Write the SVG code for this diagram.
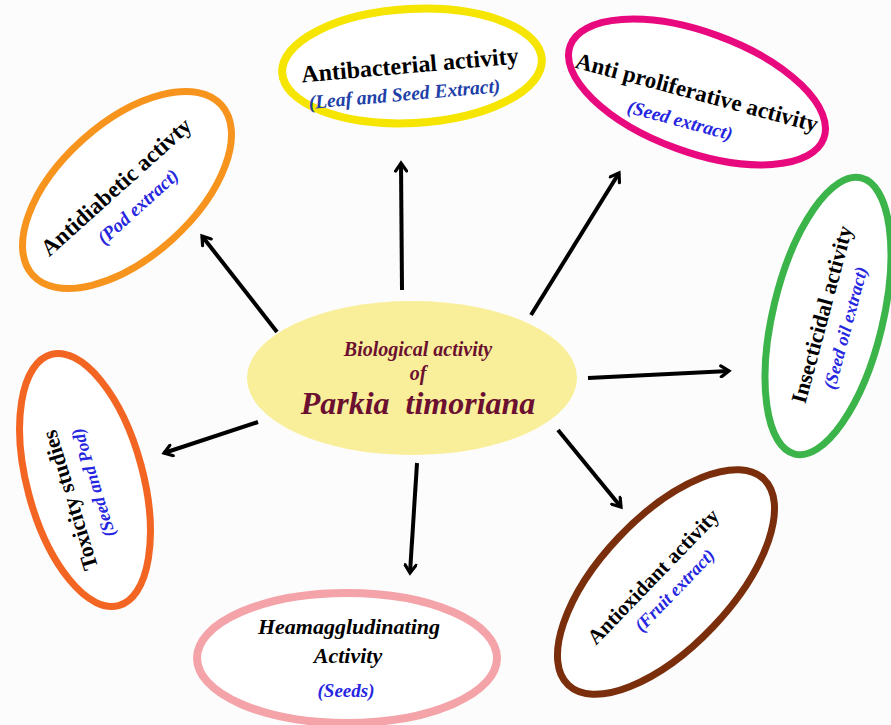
<svg xmlns="http://www.w3.org/2000/svg" width="891" height="725" viewBox="0 0 891 725">
<defs>
<marker id="ah" viewBox="0 0 14 14" refX="11" refY="7" markerWidth="14" markerHeight="14" markerUnits="userSpaceOnUse" orient="auto">
<path d="M3,1.5 L11,7 L3,12.5" fill="none" stroke="#000" stroke-width="3.2" stroke-linecap="round" stroke-linejoin="miter"/>
</marker>
</defs>
<style>
.t{font-family:"Liberation Serif","Times New Roman",serif;font-weight:bold;fill:#000;text-anchor:middle;}
.s{font-family:"Liberation Serif","Times New Roman",serif;font-weight:bold;font-style:italic;fill:#2626e0;text-anchor:middle;}
.c{font-family:"Liberation Serif","Times New Roman",serif;font-weight:bold;font-style:italic;fill:#6b1030;text-anchor:middle;}
.arrow{stroke:#000;stroke-width:4;fill:none;marker-end:url(#ah);}
</style>
<rect width="891" height="725" fill="#fcfcfc"/>

<g id="connectors">
<line class="arrow" x1="277" y1="332" x2="202" y2="236"/>
<line class="arrow" x1="402" y1="290" x2="401" y2="163"/>
<line class="arrow" x1="531" y1="315" x2="619" y2="173"/>
<line class="arrow" x1="588" y1="378" x2="729" y2="371"/>
<line class="arrow" x1="558" y1="430" x2="621" y2="507"/>
<line class="arrow" x1="417" y1="463" x2="410" y2="573"/>
<line class="arrow" x1="258" y1="422" x2="164" y2="453"/>
</g>

<g id="center">
<ellipse cx="412" cy="378" rx="165" ry="77" fill="#f9ef9a"/>
<text class="c" x="418" y="356" font-size="20">Biological activity</text>
<text class="c" x="418" y="380" font-size="20">of</text>
<text class="c" x="418" y="414" font-size="32" xml:space="preserve">Parkia  timoriana</text>
</g>

<g id="antidiabetic" transform="translate(127,190) rotate(-42)">
<ellipse cx="0" cy="0" rx="127" ry="67" fill="#fff" stroke="#f7941d" stroke-width="7"/>
<text class="t" x="-6" y="-2" font-size="23">Antidiabetic activty</text>
<text class="s" x="-3" y="26" font-size="19">(Pod extract)</text>
</g>

<g id="antibacterial">
<ellipse cx="412" cy="66" rx="130" ry="57" fill="#fff" stroke="#f5e500" stroke-width="8" transform="rotate(-3 412 66)"/>
<g transform="translate(410,66) rotate(-5)">
<text class="t" x="0" y="7" font-size="24">Antibacterial activity</text>
<text class="s" x="-8" y="34" font-size="19.5" style="fill:#2040a8">(Leaf and Seed Extract)</text>
</g>
</g>

<g id="antiproliferative" transform="translate(697,92)">
<ellipse cx="0" cy="0" rx="135" ry="60" fill="#fff" stroke="#e8097f" stroke-width="7" transform="rotate(20)"/>
<g transform="rotate(15)">
<text class="t" x="0" y="8" font-size="23">Anti proliferative activity</text>
<text class="s" x="-9" y="38" font-size="19">(Seed extract)</text>
</g>
</g>

<g id="insecticidal" transform="translate(828,316)">
<ellipse cx="0" cy="0" rx="142" ry="55" fill="#fff" stroke="#3bb54a" stroke-width="7" transform="rotate(-76.5)"/>
<g transform="rotate(-75)">
<text class="t" x="0" y="1" font-size="22">Insecticidal activity</text>
<text class="s" x="-7" y="26" font-size="18">(Seed oil extract)</text>
</g>
</g>

<g id="toxicity" transform="translate(85,480)">
<ellipse cx="0" cy="0" rx="130" ry="58" fill="#fff" stroke="#f26522" stroke-width="7" transform="rotate(-105)"/>
<g transform="rotate(-107)">
<text class="t" x="-15" y="-13" font-size="22">Toxicity studies</text>
<text class="s" x="-5" y="13" font-size="18">(Seed and Pod)</text>
</g>
</g>

<g id="heamagglutinating">
<ellipse cx="347" cy="658" rx="150" ry="65" fill="#fff" stroke="#f4a3a8" stroke-width="8"/>
<text class="t" x="349" y="634" font-size="22" font-style="italic">Heamaggludinating</text>
<text class="t" x="348" y="663" font-size="22" font-style="italic">Activity</text>
<text class="s" x="346" y="697" font-size="19">(Seeds)</text>
</g>

<g id="antioxidant" transform="translate(666,582)">
<ellipse cx="0" cy="0" rx="142" ry="65" fill="#fff" stroke="#7a2e0b" stroke-width="7" transform="rotate(-46.5)"/>
<g transform="rotate(-46)">
<text class="t" x="-5" y="-6" font-size="21">Antioxidant activity</text>
<text class="s" x="0" y="18" font-size="18">(Fruit extract)</text>
</g>
</g>
</svg>
